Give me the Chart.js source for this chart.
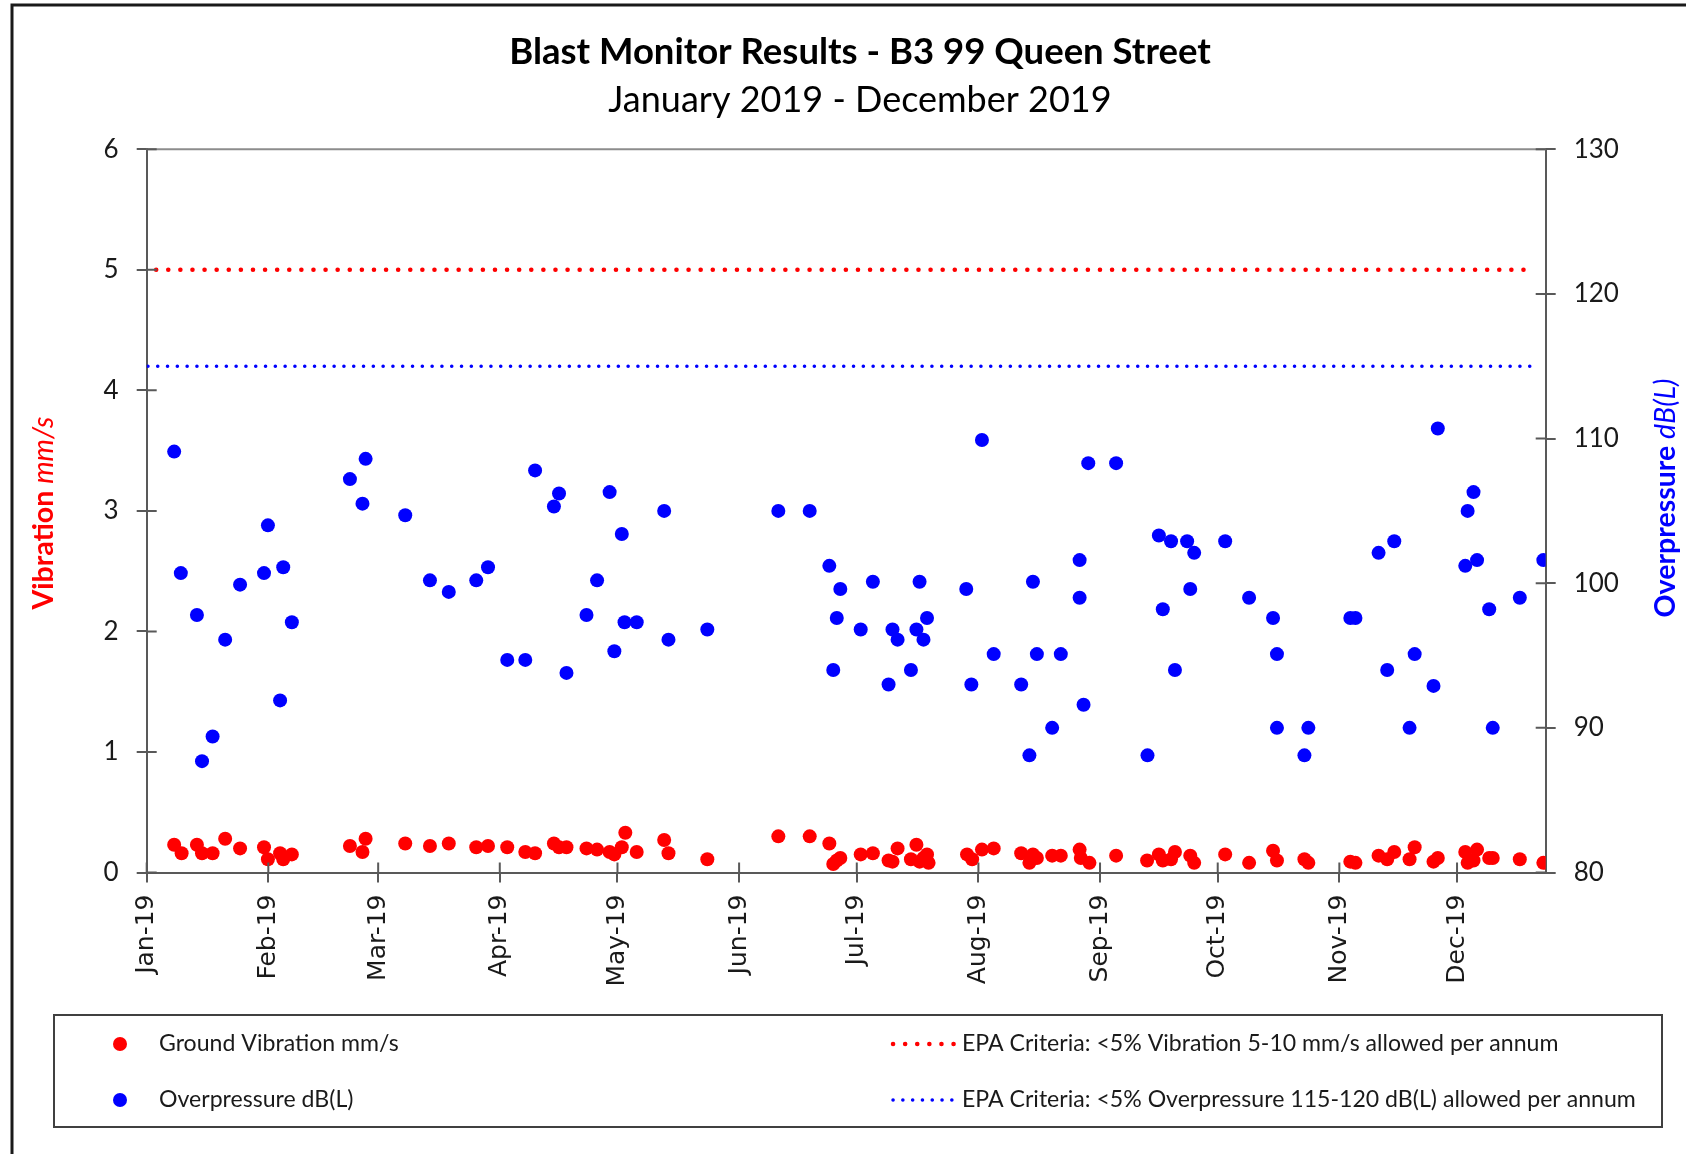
<!DOCTYPE html>
<html>
<head>
<meta charset="utf-8">
<title>Blast Monitor Results</title>
<script src="https://cdn.jsdelivr.net/npm/chart.js@4.4.0/dist/chart.umd.min.js"></script>
<style>
    html, body { margin: 0; padding: 0; background: #ffffff; }
    #corpo { width: 1686px; height: 1154px; }
</style>
</head>
<body>
<div id="corpo"><canvas id="graficoBlast" width="1686" height="1154"></canvas></div>
<script>
// days counted from 1 Jan 2019
var vibrationDays = [7, 8.9, 12.8, 14.1, 16.8, 20, 23.8, 29.9, 30.9, 34, 34.8, 37, 51.8, 55, 55.8, 65.9, 72.2, 77, 84, 87,
    91.9, 96.5, 99, 103.8, 105.1, 107, 112.1, 114.8, 118, 119.2, 121.1, 122, 124.9, 131.9, 133, 142.9, 161, 169, 174, 175,
    175.9, 176.8, 182, 185.1, 189.1, 190.1, 191.4, 194.8, 196.2, 197, 198, 198.9, 199.3, 209.1, 210.4, 212.9, 215.9, 222.9, 225, 225.9,
    226.9, 230.8, 233, 237.8, 238.1, 240.3, 247.1, 255, 258, 259, 261.1, 262.1, 266, 267, 274.9, 281, 287.1, 288.1, 295.1, 296.1,
    306.8, 308.1, 314, 316.2, 318, 321.9, 323.2, 328, 329.1, 336.1, 336.7, 338.2, 339.1, 342.2, 343.1, 350, 356]
var vibrationValues = [0.23, 0.16, 0.23, 0.16, 0.16, 0.28, 0.20, 0.21, 0.11, 0.16, 0.11, 0.15, 0.22, 0.17, 0.28, 0.24, 0.22, 0.24, 0.21, 0.22,
    0.21, 0.17, 0.16, 0.24, 0.21, 0.21, 0.20, 0.19, 0.17, 0.15, 0.21, 0.33, 0.17, 0.27, 0.16, 0.11, 0.30, 0.30, 0.24, 0.07,
    0.10, 0.12, 0.15, 0.16, 0.10, 0.09, 0.20, 0.11, 0.23, 0.09, 0.12, 0.15, 0.08, 0.15, 0.11, 0.19, 0.20, 0.16, 0.08, 0.15,
    0.12, 0.14, 0.14, 0.19, 0.12, 0.08, 0.14, 0.10, 0.15, 0.10, 0.11, 0.17, 0.14, 0.08, 0.15, 0.08, 0.18, 0.10, 0.11, 0.08,
    0.09, 0.08, 0.14, 0.11, 0.17, 0.11, 0.21, 0.09, 0.12, 0.17, 0.08, 0.10, 0.19, 0.12, 0.12, 0.11, 0.08]

var overpressureDays = [7, 8.7, 12.8, 14.1, 16.8, 20, 23.8, 29.9, 30.9, 34, 34.8, 37, 51.8, 55, 55.8, 65.9, 72.2, 77, 84, 87,
    91.9, 96.5, 99, 103.8, 105.1, 107, 112.1, 114.8, 118, 119.2, 121.1, 121.8, 124.9, 131.9, 133, 142.9, 161, 169, 174, 175,
    175.9, 176.8, 182, 185.1, 189.1, 190.1, 191.4, 194.8, 196.2, 197, 198, 198.9, 208.9, 210.2, 212.9, 215.9, 222.9, 225, 225.9, 226.9,
    230.8, 233, 237.8, 237.8, 238.8, 240, 247.1, 255.1, 258, 259, 261.1, 262.1, 265.2, 266, 267, 274.9, 281, 287.1, 288.1, 288.1,
    295.1, 296.1, 306.8, 308.1, 314, 316.2, 318, 321.9, 323.2, 328, 329.1, 336.1, 336.7, 338.2, 339.1, 342.2, 343.1, 350, 356]
var overpressureValues = [109.1, 100.7, 97.8, 87.7, 89.4, 96.1, 99.9, 100.7, 104.0, 91.9, 101.1, 97.3, 107.2, 105.5, 108.6, 104.7, 100.2, 99.4, 100.2, 101.1,
    94.7, 94.7, 107.8, 105.3, 106.2, 93.8, 97.8, 100.2, 106.3, 95.3, 103.4, 97.3, 97.3, 105.0, 96.1, 96.8, 105.0, 105.0, 101.2, 94.0,
    97.6, 99.6, 96.8, 100.1, 93.0, 96.8, 96.1, 94.0, 96.8, 100.1, 96.1, 97.6, 99.6, 93.0, 109.9, 95.1, 93.0, 88.1, 100.1, 95.1,
    90.0, 95.1, 101.6, 99.0, 91.6, 108.3, 108.3, 88.1, 103.3, 98.2, 102.9, 94.0, 102.9, 99.6, 102.1, 102.9, 99.0, 97.6, 95.1, 90.0,
    88.1, 90.0, 97.6, 97.6, 102.1, 94.0, 102.9, 90.0, 95.1, 92.9, 110.7, 101.2, 105.0, 106.3, 101.6, 98.2, 90.0, 99.0, 101.6]

// EPA criteria lines (start day, end day)
var vibrationLimitDays = [2.4, 354]
var vibrationLimitValue = 5
var overpressureLimitDays = [0.3, 355]
var overpressureLimitValue = 115

var monthStarts = [0, 31, 59, 90, 120, 151, 181, 212, 243, 273, 304, 334]
var monthLabels = ['Jan-19', 'Feb-19', 'Mar-19', 'Apr-19', 'May-19', 'Jun-19', 'Jul-19', 'Aug-19', 'Sep-19', 'Oct-19', 'Nov-19', 'Dec-19']

var corAxis = '#595959'

function montarPontos(dias, valores){
    var pontos = []
    dias.forEach(function (dia, i){
        pontos.push({x: dia, y: valores[i]})
    })
    return pontos
}

// frame, top border, inner tick halves, axis titles and the boxed legend
const extrasPlugin = {
    id: 'extras',
    beforeDraw(chart){
        const ctx = chart.ctx
        ctx.save()
        ctx.fillStyle = '#ffffff'
        ctx.fillRect(0, 0, chart.width, chart.height)
        ctx.strokeStyle = '#1a1a1a'
        ctx.lineWidth = 3
        ctx.beginPath()
        ctx.moveTo(12, chart.height)
        ctx.lineTo(12, 5)
        ctx.lineTo(chart.width, 5)
        ctx.stroke()
        ctx.restore()
    },
    afterDraw(chart){
        const ctx = chart.ctx
        const area = chart.chartArea
        const sx = chart.scales.x, sy = chart.scales.y, sy1 = chart.scales.y1
        ctx.save()

        // top border of plot area
        ctx.strokeStyle = '#8c8c8c'
        ctx.lineWidth = 2
        ctx.beginPath()
        ctx.moveTo(area.left, area.top)
        ctx.lineTo(area.right, area.top)
        ctx.stroke()

        // ticks cross the axes: inner halves
        ctx.strokeStyle = corAxis
        ctx.lineWidth = 2
        ctx.beginPath()
        sx.ticks.forEach(t => {
            var px = sx.getPixelForValue(t.value)
            ctx.moveTo(px, area.bottom)
            ctx.lineTo(px, area.bottom - 10)
        })
        sy.ticks.forEach(t => {
            var py = sy.getPixelForValue(t.value)
            ctx.moveTo(area.left, py)
            ctx.lineTo(area.left + 10, py)
        })
        sy1.ticks.forEach(t => {
            var py = sy1.getPixelForValue(t.value)
            ctx.moveTo(area.right, py)
            ctx.lineTo(area.right - 10, py)
        })
        ctx.stroke()

        // axis titles, both read bottom to top
        desenharTituloEixo(ctx, 44, 513, 'Vibration ', 'mm/s', '#ff0000')
        desenharTituloEixo(ctx, 1666, 498, 'Overpressure ', 'dB(L)', '#0000ff')

        // legend
        const ds = chart.data.datasets
        ctx.strokeStyle = '#404040'
        ctx.lineWidth = 2
        ctx.strokeRect(54, 1015, 1608, 112)

        var linhas = [1044, 1100]
        ctx.font = '23.1px Lato'
        ctx.textBaseline = 'middle'
        ctx.textAlign = 'left'
        ;[0, 1].forEach(function (i){
            ctx.fillStyle = ds[i].backgroundColor
            ctx.beginPath()
            ctx.arc(120, linhas[i], 7, 0, Math.PI * 2)
            ctx.fill()
            ctx.fillStyle = '#1a1a1a'
            ctx.fillText(ds[i].label, 159, linhas[i])
        })
        ;[2, 3].forEach(function (i, k){
            ctx.save()
            ctx.strokeStyle = ds[i].borderColor
            ctx.lineWidth = ds[i].borderWidth
            ctx.lineCap = 'round'
            ctx.setLineDash(ds[i].borderDash)
            ctx.beginPath()
            ctx.moveTo(893, linhas[k])
            ctx.lineTo(955, linhas[k])
            ctx.stroke()
            ctx.restore()
            ctx.fillStyle = '#1a1a1a'
            ctx.fillText(ds[i].label, 962, linhas[k])
        })
        ctx.restore()
    }
}

function desenharTituloEixo(ctx, x, y, negrito, italico, cor){
    ctx.save()
    ctx.translate(x, y)
    ctx.rotate(-Math.PI / 2)
    ctx.fillStyle = cor
    ctx.textBaseline = 'middle'
    ctx.textAlign = 'left'
    ctx.font = 'bold 28.5px Lato'
    var w1 = ctx.measureText(negrito).width
    ctx.font = 'italic 28.5px Lato'
    var w2 = ctx.measureText(italico).width
    var inicio = -(w1 + w2) / 2
    ctx.font = 'bold 28.5px Lato'
    ctx.fillText(negrito, inicio, 0)
    ctx.font = 'italic 28.5px Lato'
    ctx.fillText(italico, inicio + w1, 0)
    ctx.restore()
}

function plotarGraficoBlast(){
    var grafico = document.getElementById('graficoBlast')

    var dataBlast = {
        datasets: [{
            label: 'Ground Vibration mm/s',
            type: 'scatter',
            data: montarPontos(vibrationDays, vibrationValues),
            yAxisID: 'y',
            backgroundColor: '#ff0000',
            borderWidth: 0,
            pointRadius: 7
        }, {
            label: 'Overpressure dB(L)',
            type: 'scatter',
            data: montarPontos(overpressureDays, overpressureValues),
            yAxisID: 'y1',
            backgroundColor: '#0000ff',
            borderWidth: 0,
            pointRadius: 7
        }, {
            label: 'EPA Criteria: <5% Vibration 5-10 mm/s allowed per annum',
            type: 'line',
            data: montarPontos(vibrationLimitDays, [vibrationLimitValue, vibrationLimitValue]),
            yAxisID: 'y',
            borderColor: '#ff0000',
            borderWidth: 4.5,
            borderDash: [0.1, 12],
            borderCapStyle: 'round',
            pointRadius: 0
        }, {
            label: 'EPA Criteria: <5% Overpressure 115-120 dB(L) allowed per annum',
            type: 'line',
            data: montarPontos(overpressureLimitDays, [overpressureLimitValue, overpressureLimitValue]),
            yAxisID: 'y1',
            borderColor: '#0000ff',
            borderWidth: 3.5,
            borderDash: [0.1, 9.7],
            borderCapStyle: 'round',
            pointRadius: 0
        }]
    }

    const config = {
        type: 'scatter',
        data: dataBlast,
        options: {
            responsive: false,
            animation: false,
            devicePixelRatio: 1,
            layout: { padding: { left: 34, right: 0, top: 0, bottom: 0 } },
            plugins: {
                legend: { display: false },
                tooltip: { enabled: false },
                title: {
                    display: true,
                    text: 'Blast Monitor Results - B3 99 Queen Street',
                    color: '#000000',
                    font: { family: 'Lato', size: 36.5, weight: 'bold', lineHeight: 1.2 },
                    padding: { top: 30.1, bottom: 0 }
                },
                subtitle: {
                    display: true,
                    text: 'January 2019 - December 2019',
                    color: '#000000',
                    font: { family: 'Lato', size: 36, weight: 'normal', lineHeight: 1.2 },
                    padding: { top: 4.5, bottom: 27.7 }
                }
            },
            scales: {
                x: {
                    type: 'linear',
                    min: 0,
                    max: 356.6,
                    afterBuildTicks: function (scale){
                        scale.ticks = monthStarts.map(v => ({ value: v }))
                    },
                    afterFit: function (scale){ scale.height = 281.5 },
                    ticks: {
                        callback: function (valor, i){ return monthLabels[i] },
                        autoSkip: false,
                        maxRotation: 90,
                        minRotation: 90,
                        padding: 12,
                        color: '#1a1a1a',
                        font: { family: 'DejaVu Sans', size: 25 }
                    },
                    grid: { drawOnChartArea: false, tickLength: 10, color: corAxis, lineWidth: 2 },
                    border: { display: true, color: corAxis, width: 2 }
                },
                y: {
                    position: 'left',
                    min: 0,
                    max: 6,
                    afterFit: function (scale){ scale.width = 112.7 },
                    ticks: {
                        stepSize: 1,
                        padding: 18,
                        color: '#1a1a1a',
                        font: { family: 'Lato', size: 26 }
                    },
                    grid: { drawOnChartArea: false, tickLength: 10, color: corAxis, lineWidth: 2 },
                    border: { display: true, color: corAxis, width: 2 }
                },
                y1: {
                    position: 'right',
                    min: 80,
                    max: 130,
                    afterFit: function (scale){ scale.width = 140.3 },
                    ticks: {
                        stepSize: 10,
                        padding: 18,
                        color: '#1a1a1a',
                        font: { family: 'Lato', size: 26 }
                    },
                    grid: { drawOnChartArea: false, tickLength: 10, color: corAxis, lineWidth: 2 },
                    border: { display: true, color: corAxis, width: 2 }
                }
            }
        },
        plugins: [extrasPlugin]
    }

    var myChart = new Chart(grafico, config)
    return myChart
}

plotarGraficoBlast()
</script>
</body>
</html>
